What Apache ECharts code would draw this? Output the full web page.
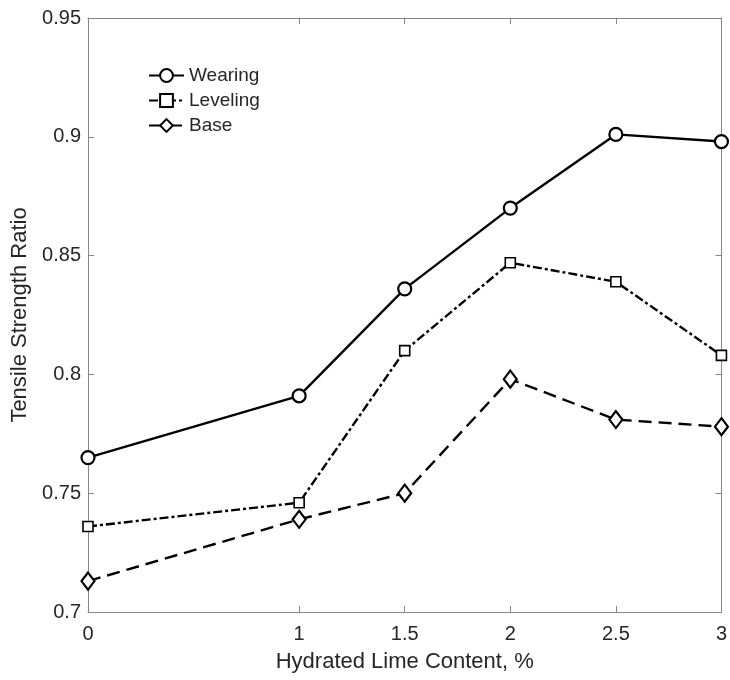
<!DOCTYPE html>
<html>
<head>
<meta charset="utf-8">
<script src="https://cdn.jsdelivr.net/npm/echarts@6/dist/echarts.min.js"></script>
<style>
  html, body { margin: 0; padding: 0; background: #fff; }
  #chart { width: 730px; height: 680px; }
</style>
</head>
<body>
<div id="chart"></div>
<script>
// hydrated lime content (%)
const limeContent = [0, 1, 1.5, 2, 2.5, 3];
const xTicks = [0, 1, 1.5, 2, 2.5, 3];
const yTicks = [0.7, 0.75, 0.8, 0.85, 0.9, 0.95];

const wearing = [0.765, 0.791, 0.836, 0.870, 0.901, 0.898];
const leveling = [0.736, 0.746, 0.810, 0.847, 0.839, 0.808];
const base = [0.713, 0.739, 0.750, 0.798, 0.781, 0.778];

const FONT = 'Liberation Sans';
const frameColor = '#868686';
const textColor = '#262626';

const pairs = (vals) => limeContent.map((x, i) => [x, vals[i]]);

const frameAxis = {
  min: 0,
  max: 3,
  type: 'value',
  axisLine: { show: true, onZero: false, lineStyle: { color: frameColor, width: 1 } },
  splitLine: { show: false },
};

const chart = echarts.init(document.getElementById('chart'));

chart.setOption({
  animation: false,
  textStyle: { fontFamily: FONT },
  grid: { left: 88, right: 8, top: 18, bottom: 68 },
  legend: {
    orient: 'vertical',
    left: 143,
    top: 61,
    itemGap: 6,
    itemWidth: 35,
    itemHeight: 16,
    textStyle: { fontFamily: FONT, fontSize: 19, color: textColor },
    data: ['Wearing', 'Leveling', 'Base'],
  },
  xAxis: [
    {
      ...frameAxis,
      position: 'bottom',
      name: 'Hydrated Lime Content, %',
      nameLocation: 'middle',
      nameGap: 39,
      nameTextStyle: { fontFamily: FONT, fontSize: 22, color: textColor },
      axisTick: { show: true, inside: true, length: 6, customValues: xTicks, lineStyle: { color: frameColor } },
      axisLabel: { customValues: xTicks, fontFamily: FONT, fontSize: 20, color: textColor, margin: 12 },
    },
    {
      ...frameAxis,
      position: 'top',
      axisTick: { show: true, inside: true, length: 6, customValues: xTicks, lineStyle: { color: frameColor } },
      axisLabel: { show: false },
    },
  ],
  yAxis: [
    {
      ...frameAxis,
      min: 0.7,
      max: 0.95,
      interval: 0.05,
      position: 'left',
      name: 'Tensile Strength Ratio',
      nameLocation: 'middle',
      nameGap: 53,
      nameTextStyle: { fontFamily: FONT, fontSize: 22, color: textColor },
      axisTick: { show: true, inside: true, length: 6, lineStyle: { color: frameColor } },
      axisLabel: {
        customValues: yTicks,
        fontFamily: FONT,
        fontSize: 20,
        color: textColor,
        margin: 7,
        formatter: (v) => String(+v.toFixed(2)),
      },
    },
    {
      ...frameAxis,
      min: 0.7,
      max: 0.95,
      interval: 0.05,
      position: 'right',
      axisTick: { show: true, inside: true, length: 6, lineStyle: { color: frameColor } },
      axisLabel: { show: false },
    },
  ],
  series: [
    {
      name: 'Wearing',
      type: 'line',
      data: pairs(wearing),
      symbol: 'circle',
      symbolSize: 13,
      clip: false,
      lineStyle: { color: '#000', width: 2.4, type: 'solid' },
      itemStyle: { color: '#fff', borderColor: '#000', borderWidth: 2.2 },
    },
    {
      name: 'Leveling',
      type: 'line',
      data: pairs(leveling),
      symbol: 'rect',
      symbolSize: 10,
      clip: false,
      lineStyle: { color: '#000', width: 2.4, type: [9, 3, 3, 3] },
      itemStyle: { color: '#fff', borderColor: '#000', borderWidth: 1.6 },
    },
    {
      name: 'Base',
      type: 'line',
      data: pairs(base),
      symbol: 'diamond',
      symbolSize: [13, 17],
      clip: false,
      lineStyle: { color: '#000', width: 2.4, type: [13, 7] },
      itemStyle: { color: '#fff', borderColor: '#000', borderWidth: 2.2 },
    },
  ],
});
</script>
</body>
</html>
